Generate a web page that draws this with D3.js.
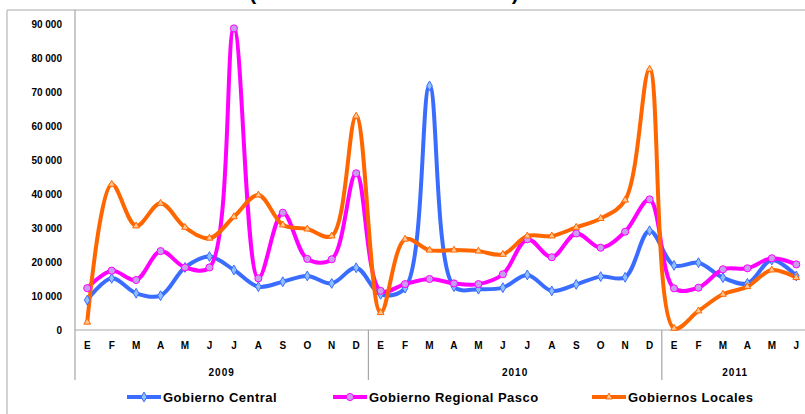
<!DOCTYPE html>
<html>
<head>
<meta charset="utf-8">
<script src="https://cdn.jsdelivr.net/npm/d3@7"></script>
<style>
  body { margin: 0; background: #fff; }
  svg { display: block; font-family: "Liberation Sans", Arial, sans-serif; }
</style>
</head>
<body>
<svg id="chart" width="805" height="414"></svg>
<script>
// months shown on the category axis, grouped by year
const months = ['E','F','M','A','M','J','J','A','S','O','N','D',
                'E','F','M','A','M','J','J','A','S','O','N','D',
                'E','F','M','A','M','J'];
const years = [
  { label: '2009', from: 0, to: 12 },
  { label: '2010', from: 12, to: 24 },
  { label: '2011', from: 24, to: 30 }
];
const yTicks = [0, 10000, 20000, 30000, 40000, 50000, 60000, 70000, 80000, 90000];

// series
const central = [8800, 15200, 10800, 10100, 18400, 21600, 17650, 12750, 14200, 15900, 13700, 18300,
                 10500, 12300, 71800, 12750, 12000, 12450, 16200, 11500, 13400, 15700, 15500, 29200,
                 19000, 19800, 15400, 13700, 20600, 15900];
const regional = [12300, 17450, 14700, 23200, 18400, 18400, 88700, 15200, 34500, 20900, 20800, 46100,
                  11500, 13500, 15000, 13700, 13500, 16400, 26700, 21400, 28400, 24200, 28900, 38400,
                  12250, 12450, 17850, 18150, 21100, 19300];
const locales = [2300, 42850, 30600, 37250, 30200, 27000, 33300, 39700, 30900, 29700, 27650, 62900,
                 5100, 26700, 23500, 23500, 23200, 22250, 27650, 27650, 30200, 32800, 38200, 76700,
                 500, 5600, 10500, 12750, 17650, 15400];

const series = [
  { name: 'Gobierno Central', values: central, color: '#3a6cff', fill: '#8fc0ff', marker: 'diamond', legendX: 127 },
  { name: 'Gobierno Regional Pasco', values: regional, color: '#ff00ff', fill: '#c99cf0', marker: 'circle', legendX: 333 },
  { name: 'Gobiernos Locales', values: locales, color: '#ff6600', fill: '#ffc68f', marker: 'triangle', legendX: 592 }
];

const svg = d3.select('#chart');
const left = 75, zeroY = 330, step = 24.45;

const x = d3.scaleBand()
  .domain(d3.range(months.length))
  .range([left, left + step * months.length]);
const y = d3.scaleLinear().domain([0, 90000]).range([zeroY, 24]);

const fmt = (v) => d3.format(',')(v).replace(/,/g, ' ');

// frame
svg.append('line').attr('x1', 7).attr('x2', 805).attr('y1', 10).attr('y2', 10)
   .attr('stroke', '#c4c4c4').attr('stroke-width', 1.5);
svg.append('line').attr('x1', 7).attr('x2', 7).attr('y1', 10).attr('y2', 414)
   .attr('stroke', '#c4c4c4').attr('stroke-width', 1.5);

// title sits above the crop, only the bottom of it shows
svg.append('text').attr('x', 384).attr('y', 0).attr('text-anchor', 'middle')
   .attr('font-size', 21).attr('font-weight', 'bold')
   .text('(En miles de nuevos soles)');

// y axis
const yAxis = svg.append('g').attr('transform', `translate(${left},0)`)
  .call(d3.axisLeft(y).tickValues(yTicks).tickFormat(fmt).tickSize(0).tickPadding(13));
yAxis.select('.domain').remove();
yAxis.selectAll('text').attr('font-size', 10).attr('font-weight', 'bold')
  .attr('fill', '#000').attr('font-family', '"Liberation Sans", Arial, sans-serif');
svg.append('line').attr('x1', left).attr('x2', left).attr('y1', 10).attr('y2', 380)
   .attr('stroke', '#a6a6a6').attr('stroke-width', 1.2);

// x axis
const xAxis = svg.append('g').attr('transform', `translate(0,${zeroY})`)
  .call(d3.axisBottom(x).tickFormat((i) => months[i]).tickSize(0).tickPadding(12));
xAxis.select('.domain').remove();
xAxis.selectAll('text').attr('font-size', 10).attr('font-weight', 'bold')
  .attr('fill', '#000').attr('font-family', '"Liberation Sans", Arial, sans-serif');
svg.append('line').attr('x1', left).attr('x2', 805).attr('y1', zeroY).attr('y2', zeroY)
   .attr('stroke', '#a6a6a6').attr('stroke-width', 1.2);

// year groups
svg.selectAll('.sep').data(years.slice(1)).enter().append('line')
   .attr('x1', (d) => x(d.from)).attr('x2', (d) => x(d.from))
   .attr('y1', zeroY).attr('y2', 380)
   .attr('stroke', '#a6a6a6').attr('stroke-width', 1.2);
svg.selectAll('.year').data(years).enter().append('text')
   .attr('x', (d) => (x(d.from) + x(d.to - 1) + x.bandwidth()) / 2)
   .attr('y', 376).attr('text-anchor', 'middle')
   .attr('font-size', 10).attr('font-weight', 'bold').attr('letter-spacing', 1)
   .text((d) => d.label);

// lines
const line = d3.line()
  .x((d, i) => x(i) + x.bandwidth() / 2)
  .y((d) => y(d))
  .curve(d3.curveCatmullRom.alpha(0.5));

const symbolFor = {
  diamond: d3.symbol().type(d3.symbolDiamond).size(28),
  circle: d3.symbol().type(d3.symbolCircle).size(40),
  triangle: d3.symbol().type(d3.symbolTriangle).size(20)
};

series.forEach((s) => {
  svg.append('path').datum(s.values)
     .attr('d', line).attr('fill', 'none')
     .attr('stroke', s.color).attr('stroke-width', 4)
     .attr('stroke-linejoin', 'round');
});
series.forEach((s) => {
  svg.selectAll(null).data(s.values).enter().append('path')
     .attr('d', symbolFor[s.marker])
     .attr('transform', (d, i) => `translate(${x(i) + x.bandwidth() / 2},${y(d)})`)
     .attr('fill', s.fill).attr('stroke', s.color).attr('stroke-width', 1);
});

// legend
const legend = svg.selectAll('.legend').data(series).enter().append('g')
  .attr('transform', (d) => `translate(${d.legendX},397)`);
legend.append('line').attr('x1', 0).attr('x2', 34).attr('y1', 0).attr('y2', 0)
  .attr('stroke', (d) => d.color).attr('stroke-width', 4);
legend.append('path').attr('d', (d) => symbolFor[d.marker]())
  .attr('transform', 'translate(17,0)')
  .attr('fill', (d) => d.fill).attr('stroke', (d) => d.color);
legend.append('text').attr('x', 36).attr('y', 5)
  .attr('font-size', 13).attr('font-weight', 'bold').attr('letter-spacing', 0.5)
  .text((d) => d.name);
</script>
</body>
</html>
